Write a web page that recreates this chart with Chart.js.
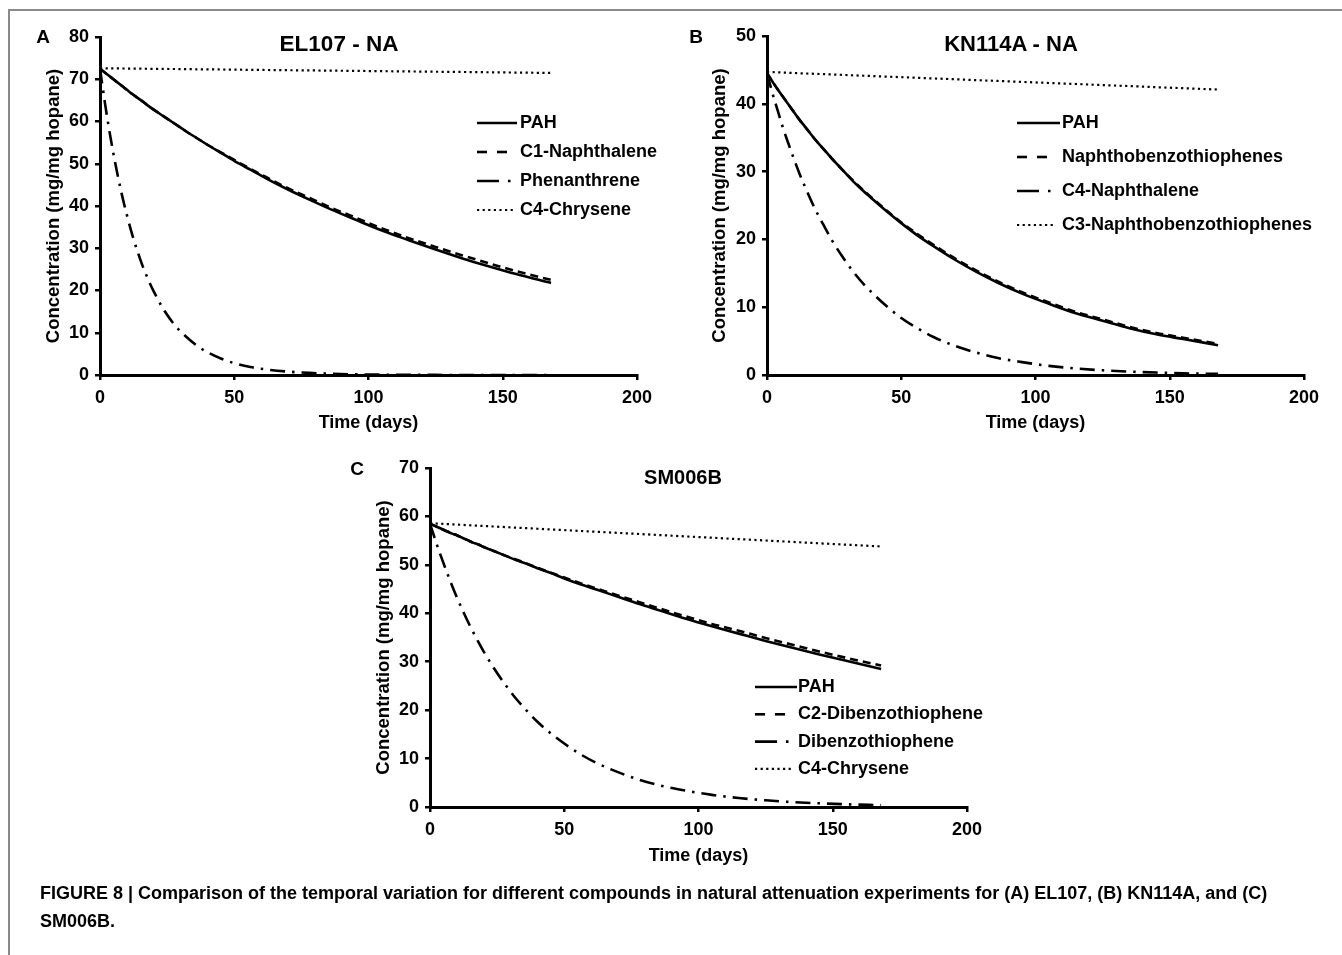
<!DOCTYPE html>
<html>
<head>
<meta charset="utf-8">
<script src="https://cdn.jsdelivr.net/npm/chart.js@4/dist/chart.umd.min.js"></script>
<style>
  html, body { margin: 0; padding: 0; background: #fff; }
  body { width: 1342px; height: 955px; position: relative; overflow: hidden;
         font-family: "Liberation Sans", Arial, sans-serif; color: #000; }
  .frame { position: absolute; left: 8px; top: 9px; width: 1500px; height: 1100px;
           border-left: 2px solid #8a8a8a; border-top: 2px solid #8a8a8a; }
  canvas { position: absolute; }
  .lbl { position: absolute; font-weight: bold; transform: translate(-50%, -50%); white-space: nowrap; }
  .panel { font-size: 19px; }
  .caption { position: absolute; left: 40px; top: 879px; width: 1262px; font-size: 18px;
             font-weight: bold; line-height: 28px; }
</style>
</head>
<body>
<div class="frame"></div>

<canvas id="chartA" width="670" height="440" style="left:0px;top:0px"></canvas>
<canvas id="chartB" width="672" height="440" style="left:670px;top:0px"></canvas>
<canvas id="chartC" width="680" height="440" style="left:330px;top:440px"></canvas>

<div class="lbl panel" style="left:43px;top:37px">A</div>
<div class="lbl" style="left:339px;top:44px;font-size:22.5px">EL107 - NA</div>
<div class="lbl panel" style="left:696px;top:37px">B</div>
<div class="lbl" style="left:1011px;top:44px;font-size:22px">KN114A - NA</div>
<div class="lbl panel" style="left:357px;top:469px">C</div>
<div class="lbl" style="left:683px;top:477px;font-size:20px">SM006B</div>

<div class="caption">FIGURE 8 | Comparison of the temporal variation for different compounds in natural attenuation experiments for (A) EL107, (B) KN114A, and (C) SM006B.</div>

<script>
// Sampling days shared by every curve
const days = [0, 2, 4, 6, 8, 10, 12, 14, 16, 18, 20, 24, 28, 32, 36, 40, 45, 50, 56, 62, 70, 78, 86, 95, 105, 115, 125, 135, 145, 155, 168];

// Tick labels
const xTickValues = [0, 50, 100, 150, 200];
const yTicksA = [0, 10, 20, 30, 40, 50, 60, 70, 80];
const yTicksB = [0, 10, 20, 30, 40, 50];
const yTicksC = [0, 10, 20, 30, 40, 50, 60, 70];

// EL107 - NA (mg/mg hopane)
const elPah     = [72.5, 71.5, 70.5, 69.5, 68.5, 67.5, 66.5, 65.6, 64.7, 63.7, 62.8, 61.1, 59.4, 57.7, 56.1, 54.5, 52.6, 50.7, 48.6, 46.5, 43.9, 41.5, 39.2, 36.8, 34.2, 31.9, 29.7, 27.6, 25.7, 23.9, 21.8];
const elC1Naph  = [72.5, 71.5, 70.5, 69.5, 68.5, 67.5, 66.5, 65.6, 64.7, 63.7, 62.8, 61.1, 59.4, 57.7, 56.1, 54.5, 52.7, 50.9, 48.8, 46.8, 44.2, 41.9, 39.6, 37.3, 34.7, 32.4, 30.3, 28.3, 26.4, 24.6, 22.5];
const elPhen    = [72.5, 63.7, 55.9, 49.1, 43.1, 37.9, 33.2, 29.2, 25.6, 22.5, 19.8, 15.2, 11.7, 9.1, 7.0, 5.4, 3.9, 2.8, 1.9, 1.3, 0.8, 0.5, 0.3, 0.15, 0.08, 0.04, 0.02, 0.01, 0.01, 0, 0];
const elC4Chrys = [72.60, 72.59, 72.57, 72.56, 72.55, 72.53, 72.52, 72.51, 72.50, 72.48, 72.47, 72.44, 72.42, 72.39, 72.36, 72.34, 72.31, 72.27, 72.23, 72.19, 72.14, 72.09, 72.04, 71.98, 71.91, 71.85, 71.78, 71.72, 71.65, 71.58, 71.50];

// KN114A - NA
const knPah     = [44.5, 43.3, 42.1, 41.0, 39.9, 38.8, 37.7, 36.7, 35.7, 34.7, 33.8, 32.0, 30.3, 28.6, 27.1, 25.7, 24.0, 22.4, 20.6, 19.0, 17.0, 15.2, 13.6, 12.0, 10.5, 9.1, 8.0, 6.9, 6.0, 5.3, 4.4];
const knNbt     = [44.5, 43.3, 42.1, 41.0, 39.9, 38.8, 37.7, 36.7, 35.7, 34.7, 33.8, 32.0, 30.3, 28.7, 27.2, 25.8, 24.1, 22.5, 20.8, 19.2, 17.2, 15.4, 13.8, 12.2, 10.7, 9.3, 8.2, 7.1, 6.2, 5.5, 4.6];
const knC4Naph  = [44.5, 41.6, 39.0, 36.4, 34.1, 31.9, 29.8, 27.9, 26.1, 24.4, 22.9, 20.0, 17.5, 15.3, 13.4, 11.8, 10.0, 8.4, 6.9, 5.6, 4.3, 3.3, 2.5, 1.9, 1.35, 0.97, 0.69, 0.5, 0.36, 0.25, 0.16];
const knC3Nbt   = [44.70, 44.67, 44.64, 44.61, 44.58, 44.55, 44.51, 44.48, 44.45, 44.42, 44.39, 44.33, 44.27, 44.20, 44.14, 44.08, 44.00, 43.93, 43.83, 43.74, 43.62, 43.49, 43.37, 43.23, 43.07, 42.92, 42.76, 42.61, 42.45, 42.30, 42.10];

// SM006B
const smPah     = [58.5, 58.0, 57.5, 57.0, 56.5, 56.1, 55.6, 55.1, 54.6, 54.2, 53.7, 52.8, 51.9, 51.0, 50.2, 49.3, 48.3, 47.2, 46.0, 44.9, 43.4, 41.9, 40.5, 38.9, 37.3, 35.8, 34.3, 32.9, 31.5, 30.2, 28.5];
const smC2Dbt   = [58.5, 58.0, 57.5, 57.0, 56.5, 56.1, 55.6, 55.1, 54.6, 54.2, 53.7, 52.8, 51.9, 51.1, 50.3, 49.4, 48.4, 47.4, 46.2, 45.1, 43.7, 42.3, 40.9, 39.4, 37.8, 36.4, 34.9, 33.5, 32.1, 30.8, 29.2];
const smDbt     = [58.5, 55.1, 51.9, 48.9, 46.0, 43.3, 40.8, 38.4, 36.2, 34.1, 32.1, 28.5, 25.3, 22.4, 19.9, 17.6, 15.2, 13.1, 10.9, 9.1, 7.2, 5.6, 4.4, 3.4, 2.5, 1.86, 1.38, 1.02, 0.76, 0.56, 0.38];
const smC4Chrys = [58.60, 58.54, 58.49, 58.43, 58.37, 58.31, 58.26, 58.20, 58.14, 58.09, 58.03, 57.91, 57.80, 57.68, 57.57, 57.46, 57.31, 57.17, 57.00, 56.83, 56.60, 56.37, 56.14, 55.88, 55.60, 55.31, 55.03, 54.74, 54.45, 54.17, 53.80];

const FONT = '"Liberation Sans", Arial, sans-serif';

// Line styles: solid, dashed, dash-dot, dotted
const STYLES = {
  solid:   { borderWidth: 2.6, borderDash: [],              keyDash: [] },
  dashed:  { borderWidth: 2.6, borderDash: [8, 5],          keyDash: [10, 10] },
  dashdot: { borderWidth: 2.6, borderDash: [15, 7, 2.5, 7], keyDash: [22, 9, 2.5, 30] },
  dotted:  { borderWidth: 2.2, borderDash: [2.2, 3.4],      keyDash: [2.2, 3.4] }
};

function series(label, values, style) {
  return Object.assign({
    label: label,
    data: days.map((d, i) => ({ x: d, y: values[i] })),
    borderColor: '#000',
    backgroundColor: '#000',
    pointRadius: 0,
    fill: false,
    tension: 0.4,
    cubicInterpolationMode: 'monotone',
    borderCapStyle: 'butt'
  }, STYLES[style]);
}

// Key drawn inside the plot area, using each dataset's own stroke style
const seriesKey = {
  id: 'seriesKey',
  afterDraw(chart, args, o) {
    const ctx = chart.ctx;
    chart.data.datasets.forEach((ds, i) => {
      const y = o.y0 + i * o.step;
      ctx.save();
      ctx.strokeStyle = ds.borderColor;
      ctx.lineWidth = ds.borderWidth;
      ctx.lineCap = 'butt';
      ctx.setLineDash(ds.keyDash || []);
      ctx.beginPath();
      ctx.moveTo(o.x0, y);
      ctx.lineTo(i === 0 ? o.x1 + 4 : o.x1, y);
      ctx.stroke();
      ctx.setLineDash([]);
      ctx.fillStyle = '#000';
      ctx.font = 'bold ' + o.size + 'px ' + FONT;
      ctx.textBaseline = 'middle';
      ctx.textAlign = 'left';
      ctx.fillText(ds.label, o.textX, y);
      ctx.restore();
    });
  }
};

function makeChart(id, datasets, cfg) {
  return new Chart(document.getElementById(id), {
    type: 'line',
    data: { datasets: datasets },
    plugins: [seriesKey],
    options: {
      responsive: false,
      animation: false,
      devicePixelRatio: 1,
      layout: { padding: { left: 0, top: cfg.padTop, right: cfg.padRight, bottom: 0 } },
      plugins: {
        legend: { display: false },
        tooltip: { enabled: false },
        seriesKey: cfg.key
      },
      scales: {
        x: {
          type: 'linear',
          min: 0, max: 200,
          afterBuildTicks: s => { s.ticks = xTickValues.map(v => ({ value: v })); },
          afterFit: s => { s.height = cfg.xHeight; },
          border: { display: true, color: '#000', width: 3 },
          grid: { drawOnChartArea: false, drawTicks: true, tickLength: 5, color: '#000', lineWidth: 2.5 },
          ticks: { color: '#000', padding: 7, maxRotation: 0, font: { family: FONT, size: 18, weight: 'bold' } },
          title: { display: true, text: 'Time (days)', color: '#000', padding: { top: 0, bottom: cfg.xTitlePad },
                   font: { family: FONT, size: 18, weight: 'bold' } }
        },
        y: {
          type: 'linear',
          min: 0, max: cfg.yMax,
          afterBuildTicks: s => { s.ticks = cfg.yTicks.map(v => ({ value: v })); },
          afterFit: s => { s.width = cfg.yWidth; },
          border: { display: true, color: '#000', width: 3 },
          grid: { drawOnChartArea: false, drawTicks: true, tickLength: 5, color: '#000', lineWidth: 2.5 },
          ticks: { color: '#000', padding: 6, font: { family: FONT, size: 18, weight: 'bold' } },
          title: { display: true, text: 'Concentration (mg/mg hopane)', color: '#000',
                   padding: { top: cfg.yTitlePad, bottom: 0 },
                   font: { family: FONT, size: 18.5, weight: 'bold' } }
        }
      }
    }
  });
}

makeChart('chartA', [
  series('PAH', elPah, 'solid'),
  series('C1-Naphthalene', elC1Naph, 'dashed'),
  series('Phenanthrene', elPhen, 'dashdot'),
  series('C4-Chrysene', elC4Chrys, 'dotted')
], { padTop: 37, padRight: 33, xHeight: 65, yWidth: 100, yMax: 80, yTicks: yTicksA,
     xTitlePad: 6.5, yTitlePad: 43,
     key: { x0: 477, x1: 513, textX: 520, y0: 123, step: 29, size: 18 } });

makeChart('chartB', [
  series('PAH', knPah, 'solid'),
  series('Naphthobenzothiophenes', knNbt, 'dashed'),
  series('C4-Naphthalene', knC4Naph, 'dashdot'),
  series('C3-Naphthobenzothiophenes', knC3Nbt, 'dotted')
], { padTop: 36, padRight: 38, xHeight: 65, yWidth: 97, yMax: 50, yTicks: yTicksB,
     xTitlePad: 6.5, yTitlePad: 39,
     key: { x0: 347, x1: 386, textX: 392, y0: 123, step: 34, size: 18 } });

makeChart('chartC', [
  series('PAH', smPah, 'solid'),
  series('C2-Dibenzothiophene', smC2Dbt, 'dashed'),
  series('Dibenzothiophene', smDbt, 'dashdot'),
  series('C4-Chrysene', smC4Chrys, 'dotted')
], { padTop: 28, padRight: 43, xHeight: 73, yWidth: 100, yMax: 70, yTicks: yTicksC,
     xTitlePad: 13.5, yTitlePad: 43,
     key: { x0: 425, x1: 463, textX: 468, y0: 247, step: 27.3, size: 18 } });
</script>
</body>
</html>
